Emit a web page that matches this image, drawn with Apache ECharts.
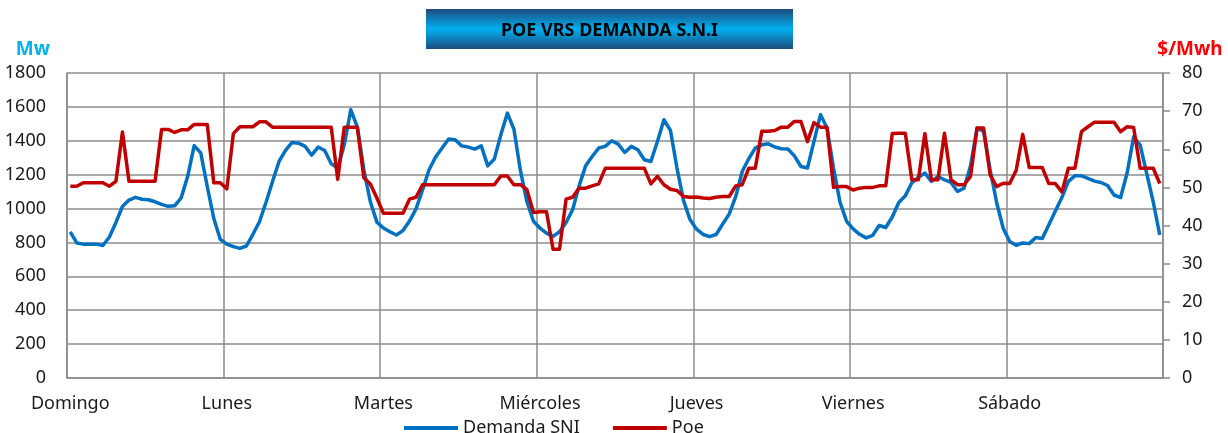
<!DOCTYPE html>
<html>
<head>
<meta charset="utf-8">
<script src="https://cdn.jsdelivr.net/npm/echarts@6/dist/echarts.min.js"></script>
<style>
  html, body { margin:0; padding:0; background:#fff; }
  #chart { width:1228px; height:433px; }
</style>
</head>
<body>
<div id="chart"></div>
<script>
// === Datos (24 horas por día) ===
const DAYS = ['Domingo','Lunes','Martes','Miércoles','Jueves','Viernes','Sábado'];

const demanda = [
  // Domingo
  862, 797, 790, 790, 790, 782, 832, 918, 1012, 1050, 1066, 1055, 1052, 1040, 1025, 1013, 1016, 1063, 1190, 1371, 1329, 1130, 942, 818,
  // Lunes
  790, 775, 765, 779, 848, 922, 1036, 1160, 1278, 1343, 1390, 1386, 1367, 1315, 1363, 1343, 1264, 1239, 1376, 1583, 1482, 1230, 1040, 920,
  // Martes
  885, 863, 844, 870, 926, 998, 1110, 1229, 1304, 1357, 1410, 1406, 1370, 1363, 1351, 1370, 1252, 1292, 1436, 1563, 1469, 1225, 1040, 925,
  // Miércoles
  885, 855, 836, 863, 918, 993, 1134, 1252, 1307, 1357, 1367, 1400, 1380, 1331, 1367, 1347, 1288, 1278, 1396, 1524, 1461, 1239, 1048, 935,
  // Jueves
  878, 847, 834, 847, 908, 967, 1070, 1219, 1294, 1357, 1376, 1382, 1363, 1353, 1351, 1311, 1248, 1239, 1396, 1554, 1475, 1239, 1036, 925,
  // Viernes
  880, 848, 827, 842, 900, 888, 950, 1036, 1075, 1152, 1185, 1209, 1160, 1189, 1170, 1154, 1101, 1120, 1252, 1475, 1455, 1229, 1036, 884,
  // Sábado
  805, 783, 797, 793, 829, 823, 905, 985, 1065, 1160, 1193, 1193, 1178, 1162, 1154, 1136, 1080, 1065, 1210, 1424, 1375, 1207, 1040, 845
];

const poe = [
  // Domingo
  50.3, 50.3, 51.2, 51.2, 51.2, 51.2, 50.3, 51.6, 64.5, 51.6, 51.6, 51.6, 51.6, 51.6, 65.2, 65.2, 64.4, 65.1, 65.1, 66.5, 66.5, 66.5, 51.2, 51.2,
  // Lunes
  49.6, 64.1, 65.9, 65.9, 65.9, 67.2, 67.2, 65.8, 65.8, 65.8, 65.8, 65.8, 65.8, 65.8, 65.8, 65.8, 65.8, 52.1, 65.8, 65.8, 65.8, 52.5, 50.9, 47.2,
  // Martes
  43.2, 43.2, 43.2, 43.2, 46.9, 47.4, 50.7, 50.7, 50.7, 50.7, 50.7, 50.7, 50.7, 50.7, 50.7, 50.7, 50.7, 50.7, 53.0, 53.0, 50.7, 50.7, 49.4, 43.4,
  // Miércoles
  43.6, 43.6, 33.8, 33.8, 46.9, 47.4, 49.8, 49.8, 50.4, 50.9, 55.0, 55.0, 55.0, 55.0, 55.0, 55.0, 55.0, 50.9, 52.9, 50.7, 49.5, 49.2, 47.6, 47.4,
  // Jueves
  47.5, 47.2, 47.1, 47.4, 47.6, 47.6, 50.4, 50.7, 55.0, 55.0, 64.7, 64.7, 64.9, 65.8, 65.8, 67.3, 67.3, 62.0, 67.0, 65.8, 65.8, 50.0, 50.2, 50.2,
  // Viernes
  49.3, 49.8, 50.0, 50.0, 50.4, 50.4, 64.1, 64.2, 64.2, 52.0, 52.0, 64.1, 52.0, 52.0, 64.2, 52.0, 50.7, 50.7, 52.9, 65.6, 65.6, 53.3, 50.2, 51.1,
  // Sábado
  51.0, 54.5, 63.9, 55.2, 55.2, 55.2, 51.0, 51.0, 48.8, 55.0, 55.0, 64.6, 65.9, 67.1, 67.1, 67.1, 67.1, 64.6, 65.9, 65.7, 55.0, 55.0, 55.0, 51.0
];

// categorías: "Día hora"
const categorias = DAYS.flatMap(d => Array.from({ length: 24 }, (_, h) => d + ' ' + h));

// === Estilo ===
const FONT = '"Noto Sans", sans-serif';
const gridGray = '#8c8c8c';
const txt = '#1a1a1a';
const blue = '#0070c0', red = '#c00000';

const chart = echarts.init(document.getElementById('chart'));

chart.setOption({
  animation: false,
  textStyle: { fontFamily: FONT },
  graphic: [{
    type: 'group', left: 426, top: 9,
    children: [
      { type: 'rect', shape: { x: 0, y: 0, width: 367, height: 40 },
        style: { fill: new echarts.graphic.LinearGradient(0, 0, 0, 1, [
          { offset: 0, color: '#1f4a7c' },
          { offset: 0.5, color: '#00b0f0' },
          { offset: 1, color: '#1f4a7c' }
        ]) } },
      { type: 'text', style: { text: 'POE VRS DEMANDA S.N.I', x: 183.5, y: 21.5,
        align: 'center', verticalAlign: 'middle',
        font: 'bold 18px "Noto Sans", sans-serif', fill: '#000' } }
    ]
  }],
  grid: { left: 67, right: 65, top: 73, bottom: 55, outerBoundsMode: 'none' },
  legend: {
    data: ['Demanda SNI', 'Poe'], left: 399, top: 414,
    icon: 'rect', itemWidth: 54, itemHeight: 4, itemGap: 33,
    textStyle: { fontSize: 18, color: txt, fontFamily: FONT }
  },
  xAxis: {
    type: 'category', data: categorias, boundaryGap: true,
    axisLine: { lineStyle: { color: gridGray, width: 1.5 } },
    axisTick: { show: false, interval: 23 },
    axisLabel: { interval: 23, margin: 17, fontSize: 18, color: txt,
      formatter: v => v.split(' ')[0] },
    splitLine: { show: true, interval: 23, lineStyle: { color: gridGray, width: 1.5 } }
  },
  yAxis: [
    { type: 'value', min: 0, max: 1800, interval: 200,
      name: 'Mw', nameLocation: 'end', nameGap: 14,
      nameTextStyle: { color: '#00b0f0', fontWeight: 'bold', fontSize: 19, align: 'right', padding: [0, 17, 0, 0] },
      axisLine: { show: true, lineStyle: { color: gridGray, width: 1.5 } },
      axisTick: { show: false },
      axisLabel: { fontSize: 18, color: txt, margin: 21, formatter: v => String(v) },
      splitLine: { lineStyle: { color: gridGray, width: 1.5 } } },
    { type: 'value', min: 0, max: 80, interval: 10, position: 'right',
      name: '$/Mwh', nameLocation: 'end', nameGap: 14,
      nameTextStyle: { color: '#ff0000', fontWeight: 'bold', fontSize: 19, align: 'center', padding: [0, 0, 0, 54] },
      axisLine: { show: true, lineStyle: { color: gridGray, width: 1.5 } },
      axisTick: { show: true, length: 7, lineStyle: { color: gridGray, width: 1.5 } },
      axisLabel: { fontSize: 18, color: txt, margin: 19, formatter: v => String(v) },
      splitLine: { show: false } }
  ],
  series: [
    { name: 'Demanda SNI', type: 'line', yAxisIndex: 0, data: demanda,
      showSymbol: false, color: blue, lineStyle: { color: blue, width: 3.5, join: 'round' } },
    { name: 'Poe', type: 'line', yAxisIndex: 1, data: poe,
      showSymbol: false, color: red, lineStyle: { color: red, width: 3.5, join: 'round' } }
  ]
});
</script>
</body>
</html>
